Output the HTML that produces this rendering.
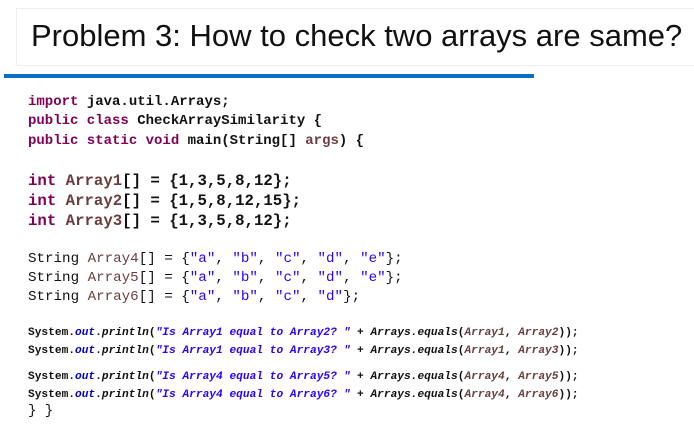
<!DOCTYPE html>
<html><head><style>
body{margin:0;width:694px;height:424px;background:#fff;position:relative;overflow:hidden;font-family:"Liberation Mono",monospace;}
.t{position:absolute;left:16px;top:8px;width:680px;height:58px;border:1px solid #eee;box-sizing:border-box;background:#fff;}
.t span{position:absolute;left:14px;top:9px;font:31px "Liberation Sans",sans-serif;color:#111;white-space:nowrap;}
.bar{position:absolute;left:4px;top:74px;width:530px;height:4px;background:#0c6ec4;}
.l{position:absolute;left:28px;white-space:pre;color:#111;}
.a{font-size:14px;font-weight:bold;line-height:16px;}
.b{font-size:15.7px;font-weight:bold;line-height:18px;}
.c{font-size:14.2px;line-height:16px;}
.d{font-size:11.2px;line-height:13px;font-weight:bold;}
.k{color:#7f0055;font-weight:bold}
.v{color:#6a3e3e}
.s{color:#2a00ff}
.o{color:#0000c0;font-style:italic;font-weight:bold}
.i{font-style:italic}
</style></head><body>
<div class="t"><span>Problem 3: How to check two arrays are same?</span></div>
<div class="bar"></div>
<div class="l a" style="top:94px"><span class="k">import</span> java.util.Arrays;</div>
<div class="l a" style="top:113px"><span class="k">public class</span> CheckArraySimilarity {</div>
<div class="l a" style="top:133px"><span class="k">public static void</span> main(String[] <span class="v">args</span>) {</div>
<div class="l b" style="top:172px"><span class="k">int</span> <span class="v">Array1</span>[] = {1,3,5,8,12};</div>
<div class="l b" style="top:192px"><span class="k">int</span> <span class="v">Array2</span>[] = {1,5,8,12,15};</div>
<div class="l b" style="top:212px"><span class="k">int</span> <span class="v">Array3</span>[] = {1,3,5,8,12};</div>
<div class="l c" style="top:251px">String <span class="v">Array4</span>[] = {<span class="s">"a"</span>, <span class="s">"b"</span>, <span class="s">"c"</span>, <span class="s">"d"</span>, <span class="s">"e"</span>};</div>
<div class="l c" style="top:270px">String <span class="v">Array5</span>[] = {<span class="s">"a"</span>, <span class="s">"b"</span>, <span class="s">"c"</span>, <span class="s">"d"</span>, <span class="s">"e"</span>};</div>
<div class="l c" style="top:289px">String <span class="v">Array6</span>[] = {<span class="s">"a"</span>, <span class="s">"b"</span>, <span class="s">"c"</span>, <span class="s">"d"</span>};</div>
<div class="l d" style="top:327px">System.<span class="o">out</span>.<span class="i">println</span>(<span class="s i">"Is Array1 equal to Array2? "</span> + <span class="i">Arrays.equals</span>(<span class="v i">Array1</span>, <span class="v i">Array2</span>));</div>
<div class="l d" style="top:345px">System.<span class="o">out</span>.<span class="i">println</span>(<span class="s i">"Is Array1 equal to Array3? "</span> + <span class="i">Arrays.equals</span>(<span class="v i">Array1</span>, <span class="v i">Array3</span>));</div>
<div class="l d" style="top:371px">System.<span class="o">out</span>.<span class="i">println</span>(<span class="s i">"Is Array4 equal to Array5? "</span> + <span class="i">Arrays.equals</span>(<span class="v i">Array4</span>, <span class="v i">Array5</span>));</div>
<div class="l d" style="top:389px">System.<span class="o">out</span>.<span class="i">println</span>(<span class="s i">"Is Array4 equal to Array6? "</span> + <span class="i">Arrays.equals</span>(<span class="v i">Array4</span>, <span class="v i">Array6</span>));</div>
<div class="l" style="top:403px;font-size:14px;line-height:16px">} }</div>
</body></html>
